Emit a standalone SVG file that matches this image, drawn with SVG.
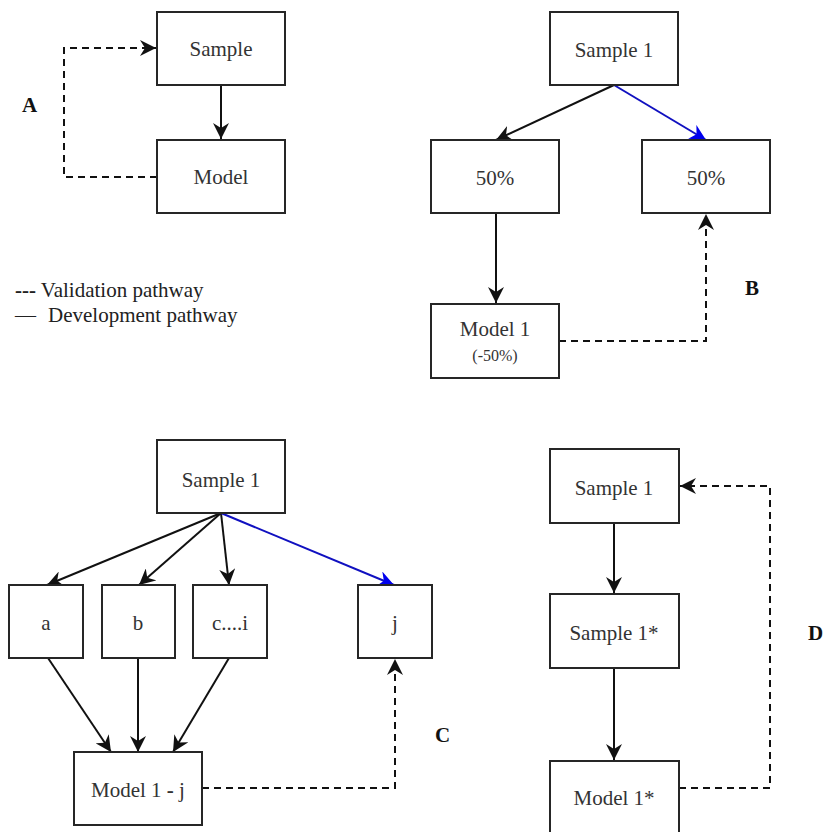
<svg xmlns="http://www.w3.org/2000/svg" width="825" height="832" viewBox="0 0 825 832" font-family="'Liberation Serif','Times New Roman',serif">
<style>
.box{fill:#fff;stroke:#262626;stroke-width:2}
.nodetext{font-family:'Liberation Serif','Times New Roman',serif;font-size:21px;fill:#333;text-anchor:middle}
.small{font-size:16px}
.lbl{font-family:'Liberation Serif','Times New Roman',serif;font-size:21px;font-weight:bold;fill:#111}
.leg{font-family:'Liberation Serif','Times New Roman',serif;font-size:21px;fill:#222}
.e{fill:none;stroke:#111;stroke-width:2}
.blue{stroke:#1010c0}
.dash{stroke-dasharray:7 5}
</style>
<defs>
<marker id="ah" markerUnits="userSpaceOnUse" markerWidth="17" markerHeight="16" refX="16" refY="8" orient="auto">
<path d="M0,0 L16,8 L0,16 L5,8 z" fill="#111"/>
</marker>
<marker id="ahb" markerUnits="userSpaceOnUse" markerWidth="17" markerHeight="16" refX="16" refY="8" orient="auto">
<path d="M0,0 L16,8 L0,16 L5,8 z" fill="#0000ee"/>
</marker>
</defs>

<g id="connectors">
<path class="e" d="M221,85 L221,139" marker-end="url(#ah)"/>
<path class="e dash" d="M157,177 L64,177 L64,48 L156,48" marker-end="url(#ah)"/>
<path class="e" d="M614,85 L496,140" marker-end="url(#ah)"/>
<path class="e blue" d="M614,85 L706,140" marker-end="url(#ahb)"/>
<path class="e" d="M496,213 L496,303" marker-end="url(#ah)"/>
<path class="e dash" d="M559,341 L706,341 L706,214" marker-end="url(#ah)"/>
<path class="e" d="M221,513 L47,585" marker-end="url(#ah)"/>
<path class="e" d="M221,513 L139,585" marker-end="url(#ah)"/>
<path class="e" d="M221,513 L229,585" marker-end="url(#ah)"/>
<path class="e blue" d="M221,513 L394,585" marker-end="url(#ahb)"/>
<path class="e" d="M48,658 L111,752" marker-end="url(#ah)"/>
<path class="e" d="M138,658 L138,752" marker-end="url(#ah)"/>
<path class="e" d="M229,658 L173,752" marker-end="url(#ah)"/>
<path class="e dash" d="M202,788 L395,788 L395,659" marker-end="url(#ah)"/>
<path class="e" d="M614,523 L614,593" marker-end="url(#ah)"/>
<path class="e" d="M614,668 L614,760" marker-end="url(#ah)"/>
<path class="e dash" d="M679,788 L770,788 L770,486 L680,486" marker-end="url(#ah)"/>
</g>

<g id="A-sample"><rect class="box" x="157" y="12" width="128" height="73"/><text class="nodetext" x="221" y="56">Sample</text></g>
<g id="A-model"><rect class="box" x="157" y="140" width="128" height="73"/><text class="nodetext" x="221" y="184">Model</text></g>
<text class="lbl" x="22" y="112">A</text>

<g id="legend">
<text class="leg" x="15" y="297"><tspan font-weight="bold">---</tspan> Validation pathway</text>
<text class="leg" x="15" y="322">—<tspan x="48">Development pathway</tspan></text>
</g>

<g id="B-sample1"><rect class="box" x="550" y="12" width="128" height="73"/><text class="nodetext" x="614" y="57">Sample 1</text></g>
<g id="B-50left"><rect class="box" x="431" y="140" width="128" height="73"/><text class="nodetext" x="495" y="185">50%</text></g>
<g id="B-50right"><rect class="box" x="642" y="140" width="128" height="73"/><text class="nodetext" x="706" y="185">50%</text></g>
<g id="B-model1"><rect class="box" x="431" y="304" width="128" height="74"/><text class="nodetext" x="495" y="336">Model 1</text><text class="nodetext small" x="495" y="361">(-50%)</text></g>
<text class="lbl" x="745" y="295">B</text>

<g id="C-sample1"><rect class="box" x="157" y="440" width="128" height="73"/><text class="nodetext" x="221" y="487">Sample 1</text></g>
<g id="C-a"><rect class="box" x="9" y="585" width="74" height="73"/><text class="nodetext" x="46" y="630">a</text></g>
<g id="C-b"><rect class="box" x="102" y="585" width="73" height="73"/><text class="nodetext" x="138" y="630">b</text></g>
<g id="C-ci"><rect class="box" x="193" y="585" width="74" height="73"/><text class="nodetext" x="230" y="630">c....i</text></g>
<g id="C-j"><rect class="box" x="358" y="585" width="74" height="73"/><text class="nodetext" x="395" y="630">j</text></g>
<g id="C-model"><rect class="box" x="74" y="752" width="128" height="73"/><text class="nodetext" x="138" y="797">Model 1 <tspan font-weight="bold">-</tspan> j</text></g>
<text class="lbl" x="435" y="742">C</text>

<g id="D-sample1"><rect class="box" x="550" y="449" width="129" height="74"/><text class="nodetext" x="614" y="495">Sample 1</text></g>
<g id="D-sample1star"><rect class="box" x="550" y="594" width="129" height="74"/><text class="nodetext" x="614" y="640">Sample 1*</text></g>
<g id="D-model1star"><rect class="box" x="550" y="761" width="129" height="74"/><text class="nodetext" x="614" y="805">Model 1*</text></g>
<text class="lbl" x="808" y="640">D</text>
</svg>
